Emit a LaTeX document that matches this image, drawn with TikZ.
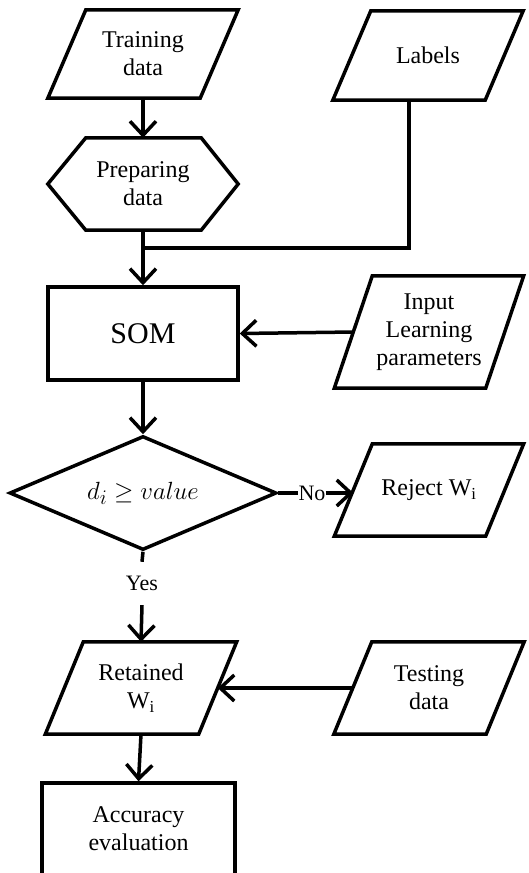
\documentclass[tikz,border=0pt]{standalone}
\usepackage{fontspec}
\setmainfont{Liberation Serif}
\usetikzlibrary{arrows.meta,shapes.geometric}
\tikzset{
  ln/.style={line width=3.5pt},
  arr/.style={ln,-{Straight Barb[length=14pt,width=26pt,line width=3.5pt]}},
  txt/.style={font=\fontsize{24}{28}\selectfont, align=center},
  ghost/.style={txt,inner sep=0pt},
}
\newcommand{\parabox}[1]{\draw[ln] ([xshift=19pt]#1.north west) -- ([xshift=19pt]#1.north east) -- ([xshift=-19pt]#1.south east) -- ([xshift=-19pt]#1.south west) -- cycle;}
\begin{document}
\begin{tikzpicture}[x=1pt,y=-1pt]
\clip (0,0) rectangle (528,873);
\fill[white] (0,0) rectangle (528,873);
% nodes
\node[ghost,minimum width=152pt,minimum height=88pt] (train) at (143,54) {Training\\data};
\node[ghost,minimum width=152pt,minimum height=89pt] (lab) at (428,55.5) {Labels};
\node[ghost,minimum width=190pt,minimum height=92pt] (hex) at (143,184) {Preparing\\data};
\node[draw,ln,inner sep=0pt,minimum width=190pt,minimum height=93pt,font=\fontsize{30}{36}\selectfont] (som) at (143,333.5) {SOM};
\node[ghost,minimum width=151pt,minimum height=112pt] (inp) at (429,332) {Input\\Learning\\parameters};
\node[draw,ln,diamond,aspect=2.34,inner sep=0pt,minimum width=267pt,minimum height=114pt,font=\fontsize{28}{32}\selectfont] (dec) at (143,493) {$d_i \geq value$};
\node[ghost,font=\fontsize{22}{26}\selectfont] (no) at (312,493) {No};
\node[ghost,minimum width=151pt,minimum height=92pt] (rej) at (429,490) {Reject W\textsubscript{i}};
\node[ghost,font=\fontsize{22}{26}\selectfont,minimum height=43pt] (yes) at (142,583.5) {Yes};
\node[ghost,minimum width=153pt,minimum height=92pt] (ret) at (141,688) {Retained\\W\textsubscript{i}};
\node[ghost,minimum width=152pt,minimum height=92pt] (test) at (429,688) {Testing\\data};
\node[draw,ln,inner sep=0pt,minimum width=193pt,minimum height=92pt,txt] (acc) at (138.5,829) {Accuracy\\evaluation};
\coordinate (j) at (143,248);
% shapes
\parabox{train}
\parabox{lab}
\parabox{inp}
\parabox{rej}
\parabox{ret}
\parabox{test}
\draw[ln] (hex.west) -- ([xshift=38pt]hex.north west) -- ([xshift=-37pt]hex.north east) -- (hex.east) -- ([xshift=-37pt]hex.south east) -- ([xshift=38pt]hex.south west) -- cycle;
% connectors
\draw[arr] (train.south) -- (hex.north);
\draw[ln] ([xshift=-19pt]lab.south) |- (j);
\draw[arr] (hex.south) -- (som.north);
\draw[arr] (inp.west) -- (som.east);
\draw[arr] (som.south) -- (dec.north);
\draw[ln] (dec.east) -- (no.west);
\draw[arr] (no.east) -- (no.east -| rej.west);
\draw[ln] (dec.south) -- (yes.north);
\draw[arr] (yes.south) -- (ret.north);
\draw[arr] (test.west) -- (ret.east);
\draw[arr] (ret.south) -- (acc.north);
\end{tikzpicture}
\end{document}
